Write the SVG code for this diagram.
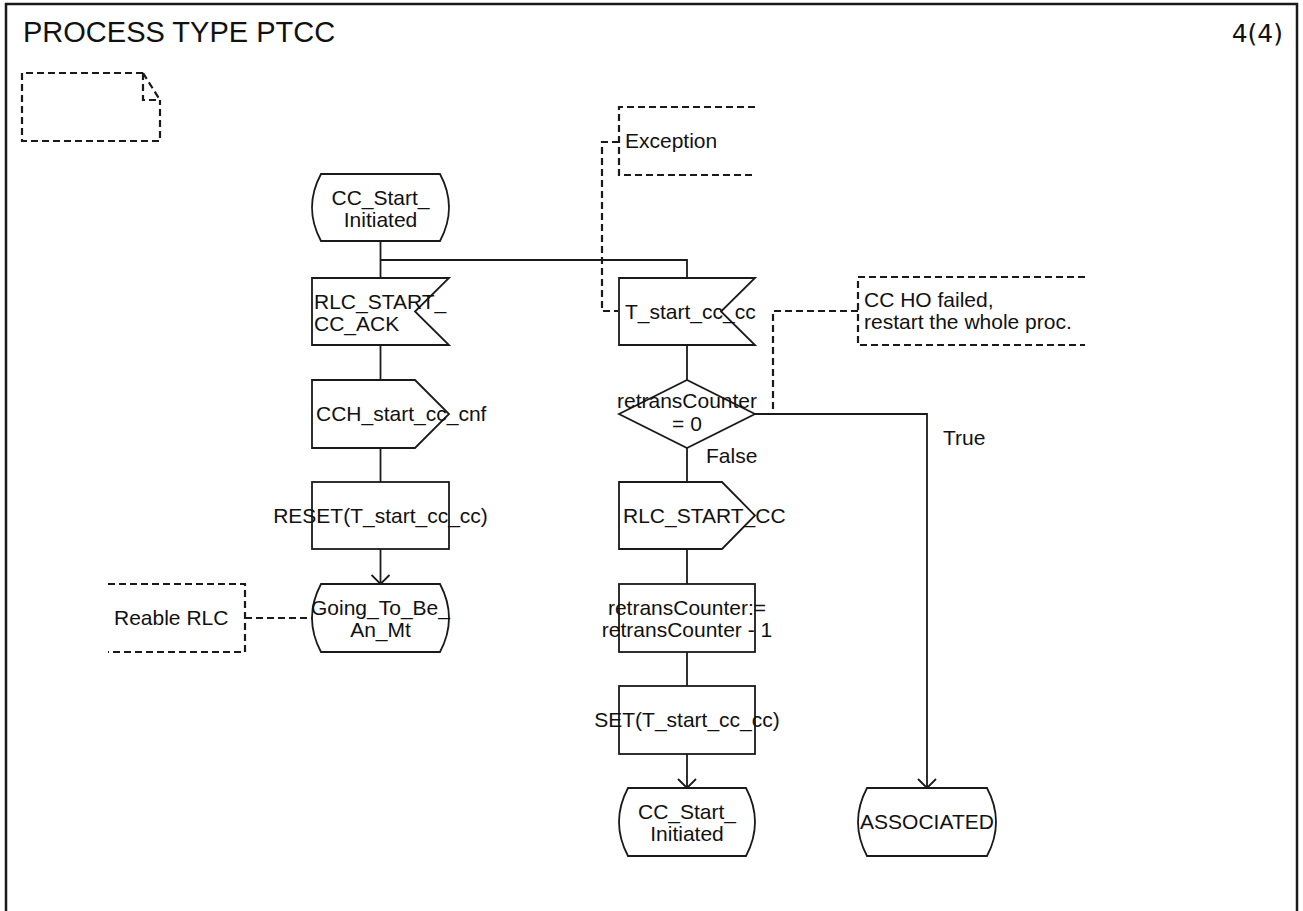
<svg xmlns="http://www.w3.org/2000/svg" width="1303" height="911" viewBox="0 0 1303 911">
<style>
.s{fill:#fff;stroke:#1a1a1a;stroke-width:1.8}
.l{fill:none;stroke:#1a1a1a;stroke-width:1.8}
.d{fill:none;stroke:#1a1a1a;stroke-width:2.2;stroke-dasharray:7,4}
.t{font-family:"Liberation Sans",Arial,sans-serif;font-size:21px;fill:#111}
.c{text-anchor:middle}
</style>
<defs>
<marker id="a" markerWidth="20" markerHeight="20" refX="10" refY="10" orient="auto" markerUnits="userSpaceOnUse">
<path d="M1,1 L10,10 L1,19" fill="none" stroke="#1a1a1a" stroke-width="1.8"/>
</marker>
</defs>
<rect x="6" y="4" width="1291" height="920" fill="#fff" stroke="#1a1a1a" stroke-width="2.5"/>
<text x="23" y="42" style="font-family:'Liberation Sans',Arial,sans-serif;font-size:29px;fill:#111">PROCESS TYPE PTCC</text>
<text x="1283" y="42" style="font-family:'DejaVu Sans','Liberation Sans',sans-serif;font-size:25px;fill:#111;text-anchor:end">4(4)</text>
<g id="page-symbol">
<path class="d" d="M143,73 L22,73 L22,141 L160,141 L160,100"/>
<path class="d" d="M143,73 L160,100 M143,73 L143,100 L160,100"/>
</g>
<g id="connectors">
<path class="l" d="M380.5,241 V278"/>
<path class="l" d="M380.5,260 H687 V278"/>
<path class="l" d="M380.5,345 V380"/>
<path class="l" d="M380.5,448 V482"/>
<path class="l" d="M380.5,549 V584" marker-end="url(#a)"/>
<path class="l" d="M687,345 V380"/>
<path class="l" d="M687,448 V482"/>
<path class="l" d="M687,549 V584"/>
<path class="l" d="M687,652 V686"/>
<path class="l" d="M687,754 V788" marker-end="url(#a)"/>
<path class="l" d="M755,414 H927 V788" marker-end="url(#a)"/>
<path class="d" d="M619,142 H602 V311 H618"/>
<path class="d" d="M858,311 H773 V414"/>
<path class="d" d="M245,618 H312"/>
<text class="t" x="706" y="463">False</text>
<text class="t" x="943" y="445">True</text>
</g>
<g id="state-start">
<path class="s" d="M321,174 H440 Q458,207.5 440,241 H321 Q303,207.5 321,174 Z"/>
<text class="t c" x="380.5" y="205">CC_Start_</text>
<text class="t c" x="380.5" y="227">Initiated</text>
</g>
<g id="input-rlc-start-cc-ack">
<path class="s" d="M312,278 H449 L415,311.5 L449,345 H312 Z"/>
<text class="t" x="314" y="309">RLC_START_</text>
<text class="t" x="314" y="331">CC_ACK</text>
</g>
<g id="output-cch-start-cc-cnf">
<path class="s" d="M312,380 H415 L449,414 L415,448 H312 Z"/>
<text class="t" x="316" y="421">CCH_start_cc_cnf</text>
</g>
<g id="task-reset">
<rect class="s" x="312" y="482" width="137" height="67"/>
<text class="t c" x="380.5" y="523">RESET(T_start_cc_cc)</text>
</g>
<g id="state-going">
<path class="s" d="M321,584 H440 Q458,618 440,652 H321 Q303,618 321,584 Z"/>
<text class="t c" x="380.5" y="615">Going_To_Be_</text>
<text class="t c" x="380.5" y="637">An_Mt</text>
</g>
<g id="comment-reable">
<path class="d" d="M108,584 H245 V652 H108"/>
<text class="t" x="114" y="625">Reable RLC</text>
</g>
<g id="comment-exception">
<path class="d" d="M755,107 H619 V175 H755"/>
<text class="t" x="625" y="148">Exception</text>
</g>
<g id="input-t-start">
<path class="s" d="M619,278 H755 L721,311.5 L755,345 H619 Z"/>
<text class="t" x="625" y="319">T_start_cc_cc</text>
</g>
<g id="comment-cc-ho">
<path class="d" d="M1085,277 H858 V345 H1085"/>
<text class="t" x="864" y="307">CC HO failed,</text>
<text class="t" x="864" y="329">restart the whole proc.</text>
</g>
<g id="decision">
<path class="s" d="M619,414 L687,380 L755,414 L687,448 Z"/>
<text class="t c" x="687" y="408">retransCounter</text>
<text class="t c" x="687" y="431">= 0</text>
</g>
<g id="output-rlc-start-cc">
<path class="s" d="M619,482 H722 L755,515.5 L722,549 H619 Z"/>
<text class="t" x="623" y="523">RLC_START_CC</text>
</g>
<g id="task-decrement">
<rect class="s" x="619" y="584" width="136" height="68"/>
<text class="t c" x="687" y="615">retransCounter:=</text>
<text class="t c" x="687" y="637">retransCounter - 1</text>
</g>
<g id="task-set">
<rect class="s" x="619" y="686" width="136" height="68"/>
<text class="t c" x="687" y="727">SET(T_start_cc_cc)</text>
</g>
<g id="state-cc-start-2">
<path class="s" d="M628,788 H746 Q764,822 746,856 H628 Q610,822 628,788 Z"/>
<text class="t c" x="687" y="819">CC_Start_</text>
<text class="t c" x="687" y="841">Initiated</text>
</g>
<g id="state-associated">
<path class="s" d="M867,788 H987 Q1005,822 987,856 H867 Q849,822 867,788 Z"/>
<text class="t c" x="927" y="829">ASSOCIATED</text>
</g>
</svg>
